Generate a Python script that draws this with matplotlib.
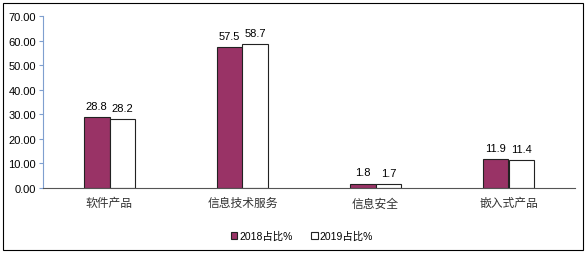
import matplotlib
matplotlib.use("Agg")
import matplotlib.pyplot as plt
from matplotlib.patches import Rectangle
import numpy as np

plt.rcParams['font.family'] = ['Liberation Sans', 'Noto Sans CJK SC', 'DejaVu Sans']

categories = ["软件产品", "信息技术服务", "信息安全", "嵌入式产品"]
s2018 = [28.8, 57.5, 1.8, 11.9]
s2019 = [28.2, 58.7, 1.7, 11.4]
yticks = [0, 10, 20, 30, 40, 50, 60, 70]

fig = plt.figure(figsize=(5.88, 2.55), dpi=100)
ax = fig.add_axes([43/588, 1-189/255, (575-43)/588, (189-17)/255])

x = np.arange(len(categories))
w = 0.195
b1 = ax.bar(x - w/2, s2018, w, color="#993366", edgecolor="#222222", linewidth=0.8, label="2018占比%")
b2 = ax.bar(x + w/2, s2019, w, color="white", edgecolor="#222222", linewidth=0.8, label="2019占比%")

for rect, v in zip(b1, s2018):
    ax.text(rect.get_x() + rect.get_width()/2, v + 2.5, f"{v}", ha="center", va="bottom", fontsize=8)
for rect, v in zip(b2, s2019):
    ax.text(rect.get_x() + rect.get_width()/2, v + 2.5, f"{v}", ha="center", va="bottom", fontsize=8)

ax.set_xlim(-0.5, 3.5)
ax.set_ylim(0, 70)
ax.set_yticks(yticks)
ax.set_yticklabels([f"{t:.2f}" for t in yticks], fontsize=8)
ax.set_xticks(x)
ax.set_xticklabels(categories, fontsize=8.5, family=['Noto Sans CJK SC'], color="#333333")
ax.tick_params(axis='x', length=0, pad=6)
ax.tick_params(axis='y', length=3, color="#7f9fcf", pad=2)
for s in ['top', 'right']:
    ax.spines[s].set_visible(False)
ax.spines['left'].set_color("#7f9fcf")
ax.spines['bottom'].set_color("#555555")

leg = fig.legend(handles=[b1, b2], loc="center", bbox_to_anchor=(302/588, 1-237/255), ncol=2,
                 frameon=False, handlelength=0.6, handleheight=0.6,
                 handletextpad=0.2, columnspacing=1.8,
                 prop={'family': ['Liberation Sans', 'Noto Sans CJK SC'], 'size': 7.5})

fig.patches.append(Rectangle((3/588, 1-251/255), 580/588, 247/255, transform=fig.transFigure,
                             fill=False, edgecolor="black", linewidth=0.8))

fig.savefig("out.png", dpi=100)
